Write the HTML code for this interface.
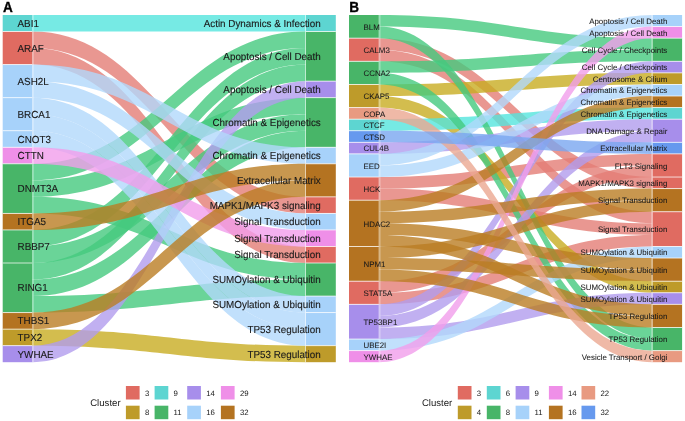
<!DOCTYPE html>
<html><head><meta charset="utf-8"><style>
html,body{margin:0;padding:0;background:#fff;}
svg{display:block;font-family:"Liberation Sans",sans-serif;will-change:transform;}
text{fill:#1a1a1a;stroke:#1a1a1a;stroke-width:0.12px;text-rendering:geometricPrecision;}
text.lg{stroke:none;fill:#1a1a1a;}
text.pl{fill:#000;stroke:#000;stroke-width:0.3px;}
text.b{stroke-width:0.06px;fill:#1a1a1a;stroke:#1a1a1a}
</style></head><body>
<svg width="685" height="421" viewBox="0 0 685 421">
<rect width="685" height="421" fill="#fff"/>
<text transform="translate(2.9,12.2) scale(1,1.08)" font-size="13.6" font-weight="bold" class="pl">A</text>
<text transform="translate(349.2,12.2) scale(1,1.08)" font-size="13.6" font-weight="bold" class="pl">B</text>
<path d="M32.10,31.53C155.35,31.53 182.75,196.87 306.00,196.87L306.00,213.40C182.75,213.40 155.35,48.07 32.10,48.07Z" fill="#E47D75" fill-opacity="0.8"/>
<path d="M32.10,48.07C155.35,48.07 182.75,246.47 306.00,246.47L306.00,263.00C182.75,263.00 155.35,64.60 32.10,64.60Z" fill="#E47D75" fill-opacity="0.8"/>
<path d="M32.10,329.13C155.35,329.13 182.75,345.67 306.00,345.67L306.00,362.20C182.75,362.20 155.35,345.67 32.10,345.67Z" fill="#C8AC22" fill-opacity="0.8"/>
<path d="M32.10,15.00C155.35,15.00 182.75,15.00 306.00,15.00L306.00,31.53C182.75,31.53 155.35,31.53 32.10,31.53Z" fill="#54E5DD" fill-opacity="0.8"/>
<path d="M32.10,163.80C155.35,163.80 182.75,31.53 306.00,31.53L306.00,48.07C182.75,48.07 155.35,180.33 32.10,180.33Z" fill="#45C97E" fill-opacity="0.8"/>
<path d="M32.10,180.33C155.35,180.33 182.75,97.67 306.00,97.67L306.00,114.20C182.75,114.20 155.35,196.87 32.10,196.87Z" fill="#45C97E" fill-opacity="0.8"/>
<path d="M32.10,196.87C155.35,196.87 182.75,263.00 306.00,263.00L306.00,279.53C182.75,279.53 155.35,213.40 32.10,213.40Z" fill="#45C97E" fill-opacity="0.8"/>
<path d="M32.10,229.93C155.35,229.93 182.75,48.07 306.00,48.07L306.00,64.60C182.75,64.60 155.35,246.47 32.10,246.47Z" fill="#45C97E" fill-opacity="0.8"/>
<path d="M32.10,246.47C155.35,246.47 182.75,114.20 306.00,114.20L306.00,130.73C182.75,130.73 155.35,263.00 32.10,263.00Z" fill="#45C97E" fill-opacity="0.8"/>
<path d="M32.10,263.00C155.35,263.00 182.75,64.60 306.00,64.60L306.00,81.13C182.75,81.13 155.35,279.53 32.10,279.53Z" fill="#45C97E" fill-opacity="0.8"/>
<path d="M32.10,279.53C155.35,279.53 182.75,130.73 306.00,130.73L306.00,147.27C182.75,147.27 155.35,296.07 32.10,296.07Z" fill="#45C97E" fill-opacity="0.8"/>
<path d="M32.10,296.07C155.35,296.07 182.75,279.53 306.00,279.53L306.00,296.07C182.75,296.07 155.35,312.60 32.10,312.60Z" fill="#45C97E" fill-opacity="0.8"/>
<path d="M32.10,345.67C155.35,345.67 182.75,81.13 306.00,81.13L306.00,97.67C182.75,97.67 155.35,362.20 32.10,362.20Z" fill="#B29CEE" fill-opacity="0.8"/>
<path d="M32.10,64.60C155.35,64.60 182.75,147.27 306.00,147.27L306.00,163.80C182.75,163.80 155.35,81.13 32.10,81.13Z" fill="#B2D8FB" fill-opacity="0.8"/>
<path d="M32.10,81.13C155.35,81.13 182.75,213.40 306.00,213.40L306.00,229.93C182.75,229.93 155.35,97.67 32.10,97.67Z" fill="#B2D8FB" fill-opacity="0.8"/>
<path d="M32.10,97.67C155.35,97.67 182.75,296.07 306.00,296.07L306.00,312.60C182.75,312.60 155.35,114.20 32.10,114.20Z" fill="#B2D8FB" fill-opacity="0.8"/>
<path d="M32.10,114.20C155.35,114.20 182.75,312.60 306.00,312.60L306.00,329.13C182.75,329.13 155.35,130.73 32.10,130.73Z" fill="#B2D8FB" fill-opacity="0.8"/>
<path d="M32.10,130.73C155.35,130.73 182.75,329.13 306.00,329.13L306.00,345.67C182.75,345.67 155.35,147.27 32.10,147.27Z" fill="#B2D8FB" fill-opacity="0.8"/>
<path d="M32.10,147.27C155.35,147.27 182.75,229.93 306.00,229.93L306.00,246.47C182.75,246.47 155.35,163.80 32.10,163.80Z" fill="#F19DEB" fill-opacity="0.8"/>
<path d="M32.10,213.40C155.35,213.40 182.75,163.80 306.00,163.80L306.00,180.33C182.75,180.33 155.35,229.93 32.10,229.93Z" fill="#BA7D23" fill-opacity="0.8"/>
<path d="M32.10,312.60C155.35,312.60 182.75,180.33 306.00,180.33L306.00,196.87C182.75,196.87 155.35,329.13 32.10,329.13Z" fill="#BA7D23" fill-opacity="0.8"/>
<rect x="2.70" y="15.00" width="29.40" height="16.53" fill="#5DD5D1"/>
<rect x="2.70" y="31.53" width="29.40" height="33.07" fill="#E06B61"/>
<rect x="2.70" y="64.60" width="29.40" height="33.07" fill="#A7D2FA"/>
<rect x="2.70" y="97.67" width="29.40" height="33.07" fill="#A7D2FA"/>
<rect x="2.70" y="130.73" width="29.40" height="16.53" fill="#A7D2FA"/>
<rect x="2.70" y="147.27" width="29.40" height="16.53" fill="#EF8FE8"/>
<rect x="2.70" y="163.80" width="29.40" height="49.60" fill="#48B568"/>
<rect x="2.70" y="213.40" width="29.40" height="16.53" fill="#B47321"/>
<rect x="2.70" y="229.93" width="29.40" height="33.07" fill="#48B568"/>
<rect x="2.70" y="263.00" width="29.40" height="49.60" fill="#48B568"/>
<rect x="2.70" y="312.60" width="29.40" height="16.53" fill="#B47321"/>
<rect x="2.70" y="329.13" width="29.40" height="16.53" fill="#BE9B2A"/>
<rect x="2.70" y="345.67" width="29.40" height="16.53" fill="#A78EEB"/>
<rect x="306.00" y="15.00" width="29.80" height="16.53" fill="#5DD5D1"/>
<rect x="306.00" y="31.53" width="29.80" height="49.60" fill="#48B568"/>
<rect x="306.00" y="81.13" width="29.80" height="16.53" fill="#A78EEB"/>
<rect x="306.00" y="97.67" width="29.80" height="49.60" fill="#48B568"/>
<rect x="306.00" y="147.27" width="29.80" height="16.53" fill="#A7D2FA"/>
<rect x="306.00" y="163.80" width="29.80" height="33.07" fill="#B47321"/>
<rect x="306.00" y="196.87" width="29.80" height="16.53" fill="#E06B61"/>
<rect x="306.00" y="213.40" width="29.80" height="16.53" fill="#A7D2FA"/>
<rect x="306.00" y="229.93" width="29.80" height="16.53" fill="#EF8FE8"/>
<rect x="306.00" y="246.47" width="29.80" height="16.53" fill="#E06B61"/>
<rect x="306.00" y="263.00" width="29.80" height="33.07" fill="#48B568"/>
<rect x="306.00" y="296.07" width="29.80" height="16.53" fill="#A7D2FA"/>
<rect x="306.00" y="312.60" width="29.80" height="33.07" fill="#A7D2FA"/>
<rect x="306.00" y="345.67" width="29.80" height="16.53" fill="#BE9B2A"/>
<rect x="2.70" y="31.08" width="29.40" height="0.9" fill="#fff" fill-opacity="0.8"/>
<rect x="2.70" y="64.15" width="29.40" height="0.9" fill="#fff" fill-opacity="0.8"/>
<rect x="2.70" y="97.22" width="29.40" height="0.9" fill="#fff" fill-opacity="0.8"/>
<rect x="2.70" y="130.28" width="29.40" height="0.9" fill="#fff" fill-opacity="0.8"/>
<rect x="2.70" y="146.82" width="29.40" height="0.9" fill="#fff" fill-opacity="0.8"/>
<rect x="2.70" y="163.35" width="29.40" height="0.9" fill="#fff" fill-opacity="0.8"/>
<rect x="2.70" y="212.95" width="29.40" height="0.9" fill="#fff" fill-opacity="0.8"/>
<rect x="2.70" y="229.48" width="29.40" height="0.9" fill="#fff" fill-opacity="0.8"/>
<rect x="2.70" y="262.55" width="29.40" height="0.9" fill="#fff" fill-opacity="0.8"/>
<rect x="2.70" y="312.15" width="29.40" height="0.9" fill="#fff" fill-opacity="0.8"/>
<rect x="2.70" y="328.68" width="29.40" height="0.9" fill="#fff" fill-opacity="0.8"/>
<rect x="2.70" y="345.22" width="29.40" height="0.9" fill="#fff" fill-opacity="0.8"/>
<rect x="306.00" y="31.08" width="29.80" height="0.9" fill="#fff" fill-opacity="0.8"/>
<rect x="306.00" y="80.68" width="29.80" height="0.9" fill="#fff" fill-opacity="0.8"/>
<rect x="306.00" y="97.22" width="29.80" height="0.9" fill="#fff" fill-opacity="0.8"/>
<rect x="306.00" y="146.82" width="29.80" height="0.9" fill="#fff" fill-opacity="0.8"/>
<rect x="306.00" y="163.35" width="29.80" height="0.9" fill="#fff" fill-opacity="0.8"/>
<rect x="306.00" y="196.42" width="29.80" height="0.9" fill="#fff" fill-opacity="0.8"/>
<rect x="306.00" y="212.95" width="29.80" height="0.9" fill="#fff" fill-opacity="0.8"/>
<rect x="306.00" y="229.48" width="29.80" height="0.9" fill="#fff" fill-opacity="0.8"/>
<rect x="306.00" y="246.02" width="29.80" height="0.9" fill="#fff" fill-opacity="0.8"/>
<rect x="306.00" y="262.55" width="29.80" height="0.9" fill="#fff" fill-opacity="0.8"/>
<rect x="306.00" y="295.62" width="29.80" height="0.9" fill="#fff" fill-opacity="0.8"/>
<rect x="306.00" y="312.15" width="29.80" height="0.9" fill="#fff" fill-opacity="0.8"/>
<rect x="306.00" y="345.22" width="29.80" height="0.9" fill="#fff" fill-opacity="0.8"/>
<rect x="32.10" y="15.00" width="1.8" height="347.20" fill="#fff" fill-opacity="0.3"/>
<rect x="305.00" y="15.00" width="1.0" height="347.20" fill="#fff" fill-opacity="0.55"/>
<text transform="translate(17.55,26.87) scale(1,1.04)" class="a" font-size="9.85">ABI1</text>
<text transform="translate(17.55,51.67) scale(1,1.04)" class="a" font-size="9.85">ARAF</text>
<text transform="translate(17.55,84.73) scale(1,1.04)" class="a" font-size="9.85">ASH2L</text>
<text transform="translate(17.55,117.80) scale(1,1.04)" class="a" font-size="9.85">BRCA1</text>
<text transform="translate(17.55,142.60) scale(1,1.04)" class="a" font-size="9.85">CNOT3</text>
<text transform="translate(17.55,159.13) scale(1,1.04)" class="a" font-size="9.85">CTTN</text>
<text transform="translate(17.55,192.20) scale(1,1.04)" class="a" font-size="9.85">DNMT3A</text>
<text transform="translate(17.55,225.27) scale(1,1.04)" class="a" font-size="9.85">ITGA5</text>
<text transform="translate(17.55,250.07) scale(1,1.04)" class="a" font-size="9.85">RBBP7</text>
<text transform="translate(17.55,291.40) scale(1,1.04)" class="a" font-size="9.85">RING1</text>
<text transform="translate(17.55,324.47) scale(1,1.04)" class="a" font-size="9.85">THBS1</text>
<text transform="translate(17.55,341.00) scale(1,1.04)" class="a" font-size="9.85">TPX2</text>
<text transform="translate(17.55,357.53) scale(1,1.04)" class="a" font-size="9.85">YWHAE</text>
<text transform="translate(320.75,26.87) scale(1,1.04)" class="a" font-size="9.85" text-anchor="end">Actin Dynamics &amp; Infection</text>
<text transform="translate(320.75,59.93) scale(1,1.04)" class="a" font-size="9.85" text-anchor="end">Apoptosis / Cell Death</text>
<text transform="translate(320.75,93.00) scale(1,1.04)" class="a" font-size="9.85" text-anchor="end">Apoptosis / Cell Death</text>
<text transform="translate(320.75,126.07) scale(1,1.04)" class="a" font-size="9.85" text-anchor="end">Chromatin &amp; Epigenetics</text>
<text transform="translate(320.75,159.13) scale(1,1.04)" class="a" font-size="9.85" text-anchor="end">Chromatin &amp; Epigenetics</text>
<text transform="translate(320.75,183.93) scale(1,1.04)" class="a" font-size="9.85" text-anchor="end">Extracellular Matrix</text>
<text transform="translate(320.75,208.73) scale(1,1.04)" class="a" font-size="9.85" text-anchor="end">MAPK1/MAPK3 signaling</text>
<text transform="translate(320.75,225.27) scale(1,1.04)" class="a" font-size="9.85" text-anchor="end">Signal Transduction</text>
<text transform="translate(320.75,241.80) scale(1,1.04)" class="a" font-size="9.85" text-anchor="end">Signal Transduction</text>
<text transform="translate(320.75,258.33) scale(1,1.04)" class="a" font-size="9.85" text-anchor="end">Signal Transduction</text>
<text transform="translate(320.75,283.13) scale(1,1.04)" class="a" font-size="9.85" text-anchor="end">SUMOylation &amp; Ubiquitin</text>
<text transform="translate(320.75,307.93) scale(1,1.04)" class="a" font-size="9.85" text-anchor="end">SUMOylation &amp; Ubiquitin</text>
<text transform="translate(320.75,332.73) scale(1,1.04)" class="a" font-size="9.85" text-anchor="end">TP53 Regulation</text>
<text transform="translate(320.75,357.53) scale(1,1.04)" class="a" font-size="9.85" text-anchor="end">TP53 Regulation</text>
<path d="M378.80,38.15C501.97,38.15 529.34,177.03 652.50,177.03L652.50,188.60C529.34,188.60 501.97,49.72 378.80,49.72Z" fill="#E47D75" fill-opacity="0.8"/>
<path d="M378.80,49.72C501.97,49.72 529.34,211.75 652.50,211.75L652.50,223.32C529.34,223.32 501.97,61.29 378.80,61.29Z" fill="#E47D75" fill-opacity="0.8"/>
<path d="M378.80,177.03C501.97,177.03 529.34,153.88 652.50,153.88L652.50,165.45C529.34,165.45 501.97,188.60 378.80,188.60Z" fill="#E47D75" fill-opacity="0.8"/>
<path d="M378.80,188.60C501.97,188.60 529.34,223.32 652.50,223.32L652.50,234.89C529.34,234.89 501.97,200.17 378.80,200.17Z" fill="#E47D75" fill-opacity="0.8"/>
<path d="M378.80,281.19C501.97,281.19 529.34,165.45 652.50,165.45L652.50,177.03C529.34,177.03 501.97,292.76 378.80,292.76Z" fill="#E47D75" fill-opacity="0.8"/>
<path d="M378.80,292.76C501.97,292.76 529.34,234.89 652.50,234.89L652.50,246.47C529.34,246.47 501.97,304.33 378.80,304.33Z" fill="#E47D75" fill-opacity="0.8"/>
<path d="M378.80,84.44C501.97,84.44 529.34,72.87 652.50,72.87L652.50,84.44C529.34,84.44 501.97,96.01 378.80,96.01Z" fill="#C8AC22" fill-opacity="0.8"/>
<path d="M378.80,96.01C501.97,96.01 529.34,281.19 652.50,281.19L652.50,292.76C529.34,292.76 501.97,107.59 378.80,107.59Z" fill="#C8AC22" fill-opacity="0.8"/>
<path d="M378.80,119.16C501.97,119.16 529.34,107.59 652.50,107.59L652.50,119.16C529.34,119.16 501.97,130.73 378.80,130.73Z" fill="#54E5DD" fill-opacity="0.8"/>
<path d="M378.80,15.00C501.97,15.00 529.34,38.15 652.50,38.15L652.50,49.72C529.34,49.72 501.97,26.57 378.80,26.57Z" fill="#45C97E" fill-opacity="0.8"/>
<path d="M378.80,26.57C501.97,26.57 529.34,327.48 652.50,327.48L652.50,339.05C529.34,339.05 501.97,38.15 378.80,38.15Z" fill="#45C97E" fill-opacity="0.8"/>
<path d="M378.80,61.29C501.97,61.29 529.34,49.72 652.50,49.72L652.50,61.29C529.34,61.29 501.97,72.87 378.80,72.87Z" fill="#45C97E" fill-opacity="0.8"/>
<path d="M378.80,72.87C501.97,72.87 529.34,339.05 652.50,339.05L652.50,350.63C529.34,350.63 501.97,84.44 378.80,84.44Z" fill="#45C97E" fill-opacity="0.8"/>
<path d="M378.80,142.31C501.97,142.31 529.34,119.16 652.50,119.16L652.50,130.73C529.34,130.73 501.97,153.88 378.80,153.88Z" fill="#B29CEE" fill-opacity="0.8"/>
<path d="M378.80,304.33C501.97,304.33 529.34,61.29 652.50,61.29L652.50,72.87C529.34,72.87 501.97,315.91 378.80,315.91Z" fill="#B29CEE" fill-opacity="0.8"/>
<path d="M378.80,315.91C501.97,315.91 529.34,130.73 652.50,130.73L652.50,142.31C529.34,142.31 501.97,327.48 378.80,327.48Z" fill="#B29CEE" fill-opacity="0.8"/>
<path d="M378.80,327.48C501.97,327.48 529.34,292.76 652.50,292.76L652.50,304.33C529.34,304.33 501.97,339.05 378.80,339.05Z" fill="#B29CEE" fill-opacity="0.8"/>
<path d="M378.80,153.88C501.97,153.88 529.34,15.00 652.50,15.00L652.50,26.57C529.34,26.57 501.97,165.45 378.80,165.45Z" fill="#B2D8FB" fill-opacity="0.8"/>
<path d="M378.80,165.45C501.97,165.45 529.34,84.44 652.50,84.44L652.50,96.01C529.34,96.01 501.97,177.03 378.80,177.03Z" fill="#B2D8FB" fill-opacity="0.8"/>
<path d="M378.80,339.05C501.97,339.05 529.34,246.47 652.50,246.47L652.50,258.04C529.34,258.04 501.97,350.63 378.80,350.63Z" fill="#B2D8FB" fill-opacity="0.8"/>
<path d="M378.80,350.63C501.97,350.63 529.34,26.57 652.50,26.57L652.50,38.15C529.34,38.15 501.97,362.20 378.80,362.20Z" fill="#F19DEB" fill-opacity="0.8"/>
<path d="M378.80,200.17C501.97,200.17 529.34,96.01 652.50,96.01L652.50,107.59C529.34,107.59 501.97,211.75 378.80,211.75Z" fill="#BA7D23" fill-opacity="0.8"/>
<path d="M378.80,211.75C501.97,211.75 529.34,188.60 652.50,188.60L652.50,200.17C529.34,200.17 501.97,223.32 378.80,223.32Z" fill="#BA7D23" fill-opacity="0.8"/>
<path d="M378.80,223.32C501.97,223.32 529.34,258.04 652.50,258.04L652.50,269.61C529.34,269.61 501.97,234.89 378.80,234.89Z" fill="#BA7D23" fill-opacity="0.8"/>
<path d="M378.80,234.89C501.97,234.89 529.34,304.33 652.50,304.33L652.50,315.91C529.34,315.91 501.97,246.47 378.80,246.47Z" fill="#BA7D23" fill-opacity="0.8"/>
<path d="M378.80,246.47C501.97,246.47 529.34,200.17 652.50,200.17L652.50,211.75C529.34,211.75 501.97,258.04 378.80,258.04Z" fill="#BA7D23" fill-opacity="0.8"/>
<path d="M378.80,258.04C501.97,258.04 529.34,269.61 652.50,269.61L652.50,281.19C529.34,281.19 501.97,269.61 378.80,269.61Z" fill="#BA7D23" fill-opacity="0.8"/>
<path d="M378.80,269.61C501.97,269.61 529.34,315.91 652.50,315.91L652.50,327.48C529.34,327.48 501.97,281.19 378.80,281.19Z" fill="#BA7D23" fill-opacity="0.8"/>
<path d="M378.80,107.59C501.97,107.59 529.34,350.63 652.50,350.63L652.50,362.20C529.34,362.20 501.97,119.16 378.80,119.16Z" fill="#EBA791" fill-opacity="0.8"/>
<path d="M378.80,130.73C501.97,130.73 529.34,142.31 652.50,142.31L652.50,153.88C529.34,153.88 501.97,142.31 378.80,142.31Z" fill="#79A6F0" fill-opacity="0.8"/>
<rect x="349.00" y="15.00" width="29.80" height="23.15" fill="#48B568"/>
<rect x="349.00" y="38.15" width="29.80" height="23.15" fill="#E06B61"/>
<rect x="349.00" y="61.29" width="29.80" height="23.15" fill="#48B568"/>
<rect x="349.00" y="84.44" width="29.80" height="23.15" fill="#BE9B2A"/>
<rect x="349.00" y="107.59" width="29.80" height="11.57" fill="#E89A81"/>
<rect x="349.00" y="119.16" width="29.80" height="11.57" fill="#5DD5D1"/>
<rect x="349.00" y="130.73" width="29.80" height="11.57" fill="#6699EE"/>
<rect x="349.00" y="142.31" width="29.80" height="11.57" fill="#A78EEB"/>
<rect x="349.00" y="153.88" width="29.80" height="23.15" fill="#A7D2FA"/>
<rect x="349.00" y="177.03" width="29.80" height="23.15" fill="#E06B61"/>
<rect x="349.00" y="200.17" width="29.80" height="46.29" fill="#B47321"/>
<rect x="349.00" y="246.47" width="29.80" height="34.72" fill="#B47321"/>
<rect x="349.00" y="281.19" width="29.80" height="23.15" fill="#E06B61"/>
<rect x="349.00" y="304.33" width="29.80" height="34.72" fill="#A78EEB"/>
<rect x="349.00" y="339.05" width="29.80" height="11.57" fill="#A7D2FA"/>
<rect x="349.00" y="350.63" width="29.80" height="11.57" fill="#EF8FE8"/>
<rect x="652.50" y="15.00" width="29.60" height="11.57" fill="#A7D2FA"/>
<rect x="652.50" y="26.57" width="29.60" height="11.57" fill="#EF8FE8"/>
<rect x="652.50" y="38.15" width="29.60" height="23.15" fill="#48B568"/>
<rect x="652.50" y="61.29" width="29.60" height="11.57" fill="#A78EEB"/>
<rect x="652.50" y="72.87" width="29.60" height="11.57" fill="#BE9B2A"/>
<rect x="652.50" y="84.44" width="29.60" height="11.57" fill="#A7D2FA"/>
<rect x="652.50" y="96.01" width="29.60" height="11.57" fill="#B47321"/>
<rect x="652.50" y="107.59" width="29.60" height="11.57" fill="#5DD5D1"/>
<rect x="652.50" y="119.16" width="29.60" height="23.15" fill="#A78EEB"/>
<rect x="652.50" y="142.31" width="29.60" height="11.57" fill="#6699EE"/>
<rect x="652.50" y="153.88" width="29.60" height="23.15" fill="#E06B61"/>
<rect x="652.50" y="177.03" width="29.60" height="11.57" fill="#E06B61"/>
<rect x="652.50" y="188.60" width="29.60" height="23.15" fill="#B47321"/>
<rect x="652.50" y="211.75" width="29.60" height="34.72" fill="#E06B61"/>
<rect x="652.50" y="246.47" width="29.60" height="11.57" fill="#A7D2FA"/>
<rect x="652.50" y="258.04" width="29.60" height="23.15" fill="#B47321"/>
<rect x="652.50" y="281.19" width="29.60" height="11.57" fill="#BE9B2A"/>
<rect x="652.50" y="292.76" width="29.60" height="11.57" fill="#A78EEB"/>
<rect x="652.50" y="304.33" width="29.60" height="23.15" fill="#B47321"/>
<rect x="652.50" y="327.48" width="29.60" height="23.15" fill="#48B568"/>
<rect x="652.50" y="350.63" width="29.60" height="11.57" fill="#E89A81"/>
<rect x="349.00" y="37.70" width="29.80" height="0.9" fill="#fff" fill-opacity="0.8"/>
<rect x="349.00" y="60.84" width="29.80" height="0.9" fill="#fff" fill-opacity="0.8"/>
<rect x="349.00" y="83.99" width="29.80" height="0.9" fill="#fff" fill-opacity="0.8"/>
<rect x="349.00" y="107.14" width="29.80" height="0.9" fill="#fff" fill-opacity="0.8"/>
<rect x="349.00" y="118.71" width="29.80" height="0.9" fill="#fff" fill-opacity="0.8"/>
<rect x="349.00" y="130.28" width="29.80" height="0.9" fill="#fff" fill-opacity="0.8"/>
<rect x="349.00" y="141.86" width="29.80" height="0.9" fill="#fff" fill-opacity="0.8"/>
<rect x="349.00" y="153.43" width="29.80" height="0.9" fill="#fff" fill-opacity="0.8"/>
<rect x="349.00" y="176.58" width="29.80" height="0.9" fill="#fff" fill-opacity="0.8"/>
<rect x="349.00" y="199.72" width="29.80" height="0.9" fill="#fff" fill-opacity="0.8"/>
<rect x="349.00" y="246.02" width="29.80" height="0.9" fill="#fff" fill-opacity="0.8"/>
<rect x="349.00" y="280.74" width="29.80" height="0.9" fill="#fff" fill-opacity="0.8"/>
<rect x="349.00" y="303.88" width="29.80" height="0.9" fill="#fff" fill-opacity="0.8"/>
<rect x="349.00" y="338.60" width="29.80" height="0.9" fill="#fff" fill-opacity="0.8"/>
<rect x="349.00" y="350.18" width="29.80" height="0.9" fill="#fff" fill-opacity="0.8"/>
<rect x="652.50" y="26.12" width="29.60" height="0.9" fill="#fff" fill-opacity="0.8"/>
<rect x="652.50" y="37.70" width="29.60" height="0.9" fill="#fff" fill-opacity="0.8"/>
<rect x="652.50" y="60.84" width="29.60" height="0.9" fill="#fff" fill-opacity="0.8"/>
<rect x="652.50" y="72.42" width="29.60" height="0.9" fill="#fff" fill-opacity="0.8"/>
<rect x="652.50" y="83.99" width="29.60" height="0.9" fill="#fff" fill-opacity="0.8"/>
<rect x="652.50" y="95.56" width="29.60" height="0.9" fill="#fff" fill-opacity="0.8"/>
<rect x="652.50" y="107.14" width="29.60" height="0.9" fill="#fff" fill-opacity="0.8"/>
<rect x="652.50" y="118.71" width="29.60" height="0.9" fill="#fff" fill-opacity="0.8"/>
<rect x="652.50" y="141.86" width="29.60" height="0.9" fill="#fff" fill-opacity="0.8"/>
<rect x="652.50" y="153.43" width="29.60" height="0.9" fill="#fff" fill-opacity="0.8"/>
<rect x="652.50" y="176.58" width="29.60" height="0.9" fill="#fff" fill-opacity="0.8"/>
<rect x="652.50" y="188.15" width="29.60" height="0.9" fill="#fff" fill-opacity="0.8"/>
<rect x="652.50" y="211.30" width="29.60" height="0.9" fill="#fff" fill-opacity="0.8"/>
<rect x="652.50" y="246.02" width="29.60" height="0.9" fill="#fff" fill-opacity="0.8"/>
<rect x="652.50" y="257.59" width="29.60" height="0.9" fill="#fff" fill-opacity="0.8"/>
<rect x="652.50" y="280.74" width="29.60" height="0.9" fill="#fff" fill-opacity="0.8"/>
<rect x="652.50" y="292.31" width="29.60" height="0.9" fill="#fff" fill-opacity="0.8"/>
<rect x="652.50" y="303.88" width="29.60" height="0.9" fill="#fff" fill-opacity="0.8"/>
<rect x="652.50" y="327.03" width="29.60" height="0.9" fill="#fff" fill-opacity="0.8"/>
<rect x="652.50" y="350.18" width="29.60" height="0.9" fill="#fff" fill-opacity="0.8"/>
<rect x="378.80" y="15.00" width="1.8" height="347.20" fill="#fff" fill-opacity="0.3"/>
<rect x="651.50" y="15.00" width="1.0" height="347.20" fill="#fff" fill-opacity="0.55"/>
<text transform="translate(363.50,29.77) scale(1,1.0)" class="b" font-size="7.9">BLM</text>
<text transform="translate(363.50,52.92) scale(1,1.0)" class="b" font-size="7.9">CALM3</text>
<text transform="translate(363.50,76.07) scale(1,1.0)" class="b" font-size="7.9">CCNA2</text>
<text transform="translate(363.50,99.21) scale(1,1.0)" class="b" font-size="7.9">CKAP5</text>
<text transform="translate(363.50,116.57) scale(1,1.0)" class="b" font-size="7.9">COPA</text>
<text transform="translate(363.50,128.15) scale(1,1.0)" class="b" font-size="7.9">CTCF</text>
<text transform="translate(363.50,139.72) scale(1,1.0)" class="b" font-size="7.9">CTSD</text>
<text transform="translate(363.50,151.29) scale(1,1.0)" class="b" font-size="7.9">CUL4B</text>
<text transform="translate(363.50,168.65) scale(1,1.0)" class="b" font-size="7.9">EED</text>
<text transform="translate(363.50,191.80) scale(1,1.0)" class="b" font-size="7.9">HCK</text>
<text transform="translate(363.50,226.52) scale(1,1.0)" class="b" font-size="7.9">HDAC2</text>
<text transform="translate(363.50,267.03) scale(1,1.0)" class="b" font-size="7.9">NPM1</text>
<text transform="translate(363.50,295.96) scale(1,1.0)" class="b" font-size="7.9">STAT5A</text>
<text transform="translate(363.50,324.89) scale(1,1.0)" class="b" font-size="7.9">TP53BP1</text>
<text transform="translate(363.50,348.04) scale(1,1.0)" class="b" font-size="7.9">UBE2I</text>
<text transform="translate(363.50,359.61) scale(1,1.0)" class="b" font-size="7.9">YWHAE</text>
<text transform="translate(667.30,23.99) scale(1,1.0)" class="b" font-size="7.9" text-anchor="end">Apoptosis / Cell Death</text>
<text transform="translate(667.30,35.56) scale(1,1.0)" class="b" font-size="7.9" text-anchor="end">Apoptosis / Cell Death</text>
<text transform="translate(667.30,52.92) scale(1,1.0)" class="b" font-size="7.9" text-anchor="end">Cell Cycle / Checkpoints</text>
<text transform="translate(667.30,70.28) scale(1,1.0)" class="b" font-size="7.9" text-anchor="end">Cell Cycle / Checkpoints</text>
<text transform="translate(667.30,81.85) scale(1,1.0)" class="b" font-size="7.9" text-anchor="end">Centrosome &amp; Cilium</text>
<text transform="translate(667.30,93.43) scale(1,1.0)" class="b" font-size="7.9" text-anchor="end">Chromatin &amp; Epigenetics</text>
<text transform="translate(667.30,105.00) scale(1,1.0)" class="b" font-size="7.9" text-anchor="end">Chromatin &amp; Epigenetics</text>
<text transform="translate(667.30,116.57) scale(1,1.0)" class="b" font-size="7.9" text-anchor="end">Chromatin &amp; Epigenetics</text>
<text transform="translate(667.30,133.93) scale(1,1.0)" class="b" font-size="7.9" text-anchor="end">DNA Damage &amp; Repair</text>
<text transform="translate(667.30,151.29) scale(1,1.0)" class="b" font-size="7.9" text-anchor="end">Extracellular Matrix</text>
<text transform="translate(667.30,168.65) scale(1,1.0)" class="b" font-size="7.9" text-anchor="end">FLT3 Signaling</text>
<text transform="translate(667.30,186.01) scale(1,1.0)" class="b" font-size="7.9" text-anchor="end">MAPK1/MAPK3 signaling</text>
<text transform="translate(667.30,203.37) scale(1,1.0)" class="b" font-size="7.9" text-anchor="end">Signal Transduction</text>
<text transform="translate(667.30,232.31) scale(1,1.0)" class="b" font-size="7.9" text-anchor="end">Signal Transduction</text>
<text transform="translate(667.30,255.45) scale(1,1.0)" class="b" font-size="7.9" text-anchor="end">SUMOylation &amp; Ubiquitin</text>
<text transform="translate(667.30,272.81) scale(1,1.0)" class="b" font-size="7.9" text-anchor="end">SUMOylation &amp; Ubiquitin</text>
<text transform="translate(667.30,290.17) scale(1,1.0)" class="b" font-size="7.9" text-anchor="end">SUMOylation &amp; Ubiquitin</text>
<text transform="translate(667.30,301.75) scale(1,1.0)" class="b" font-size="7.9" text-anchor="end">SUMOylation &amp; Ubiquitin</text>
<text transform="translate(667.30,319.11) scale(1,1.0)" class="b" font-size="7.9" text-anchor="end">TP53 Regulation</text>
<text transform="translate(667.30,342.25) scale(1,1.0)" class="b" font-size="7.9" text-anchor="end">TP53 Regulation</text>
<text transform="translate(667.30,359.61) scale(1,1.0)" class="b" font-size="7.9" text-anchor="end">Vesicle Transport / Golgi</text>
<text class="lg" x="90.2" y="406.2" font-size="9.6">Cluster</text>
<rect x="125.9" y="386.0" width="13.7" height="13.5" fill="#E06B61"/>
<rect x="125.9" y="405.7" width="13.7" height="13.5" fill="#BE9B2A"/>
<text class="lg" x="144.90" y="395.5" font-size="7.8">3</text>
<text class="lg" x="144.90" y="415.1" font-size="7.8">8</text>
<rect x="154.6" y="386.0" width="13.7" height="13.5" fill="#5DD5D1"/>
<rect x="154.6" y="405.7" width="13.7" height="13.5" fill="#48B568"/>
<text class="lg" x="173.60" y="395.5" font-size="7.8">9</text>
<text class="lg" x="173.60" y="415.1" font-size="7.8">11</text>
<rect x="187.2" y="386.0" width="13.7" height="13.5" fill="#A78EEB"/>
<rect x="187.2" y="405.7" width="13.7" height="13.5" fill="#A7D2FA"/>
<text class="lg" x="206.20" y="395.5" font-size="7.8">14</text>
<text class="lg" x="206.20" y="415.1" font-size="7.8">16</text>
<rect x="220.9" y="386.0" width="13.7" height="13.5" fill="#EF8FE8"/>
<rect x="220.9" y="405.7" width="13.7" height="13.5" fill="#B47321"/>
<text class="lg" x="239.90" y="395.5" font-size="7.8">29</text>
<text class="lg" x="239.90" y="415.1" font-size="7.8">32</text>
<text class="lg" x="421.9" y="406.2" font-size="9.6">Cluster</text>
<rect x="457.8" y="386.0" width="13.7" height="13.5" fill="#E06B61"/>
<rect x="457.8" y="405.7" width="13.7" height="13.5" fill="#BE9B2A"/>
<text class="lg" x="476.80" y="395.5" font-size="7.8">3</text>
<text class="lg" x="476.80" y="415.1" font-size="7.8">4</text>
<rect x="486.8" y="386.0" width="13.7" height="13.5" fill="#5DD5D1"/>
<rect x="486.8" y="405.7" width="13.7" height="13.5" fill="#48B568"/>
<text class="lg" x="505.80" y="395.5" font-size="7.8">6</text>
<text class="lg" x="505.80" y="415.1" font-size="7.8">8</text>
<rect x="515.6" y="386.0" width="13.7" height="13.5" fill="#A78EEB"/>
<rect x="515.6" y="405.7" width="13.7" height="13.5" fill="#A7D2FA"/>
<text class="lg" x="534.60" y="395.5" font-size="7.8">9</text>
<text class="lg" x="534.60" y="415.1" font-size="7.8">11</text>
<rect x="548.9" y="386.0" width="13.7" height="13.5" fill="#EF8FE8"/>
<rect x="548.9" y="405.7" width="13.7" height="13.5" fill="#B47321"/>
<text class="lg" x="567.90" y="395.5" font-size="7.8">14</text>
<text class="lg" x="567.90" y="415.1" font-size="7.8">16</text>
<rect x="581.5" y="386.0" width="13.7" height="13.5" fill="#E89A81"/>
<rect x="581.5" y="405.7" width="13.7" height="13.5" fill="#6699EE"/>
<text class="lg" x="600.50" y="395.5" font-size="7.8">22</text>
<text class="lg" x="600.50" y="415.1" font-size="7.8">32</text>
</svg>
</body></html>
